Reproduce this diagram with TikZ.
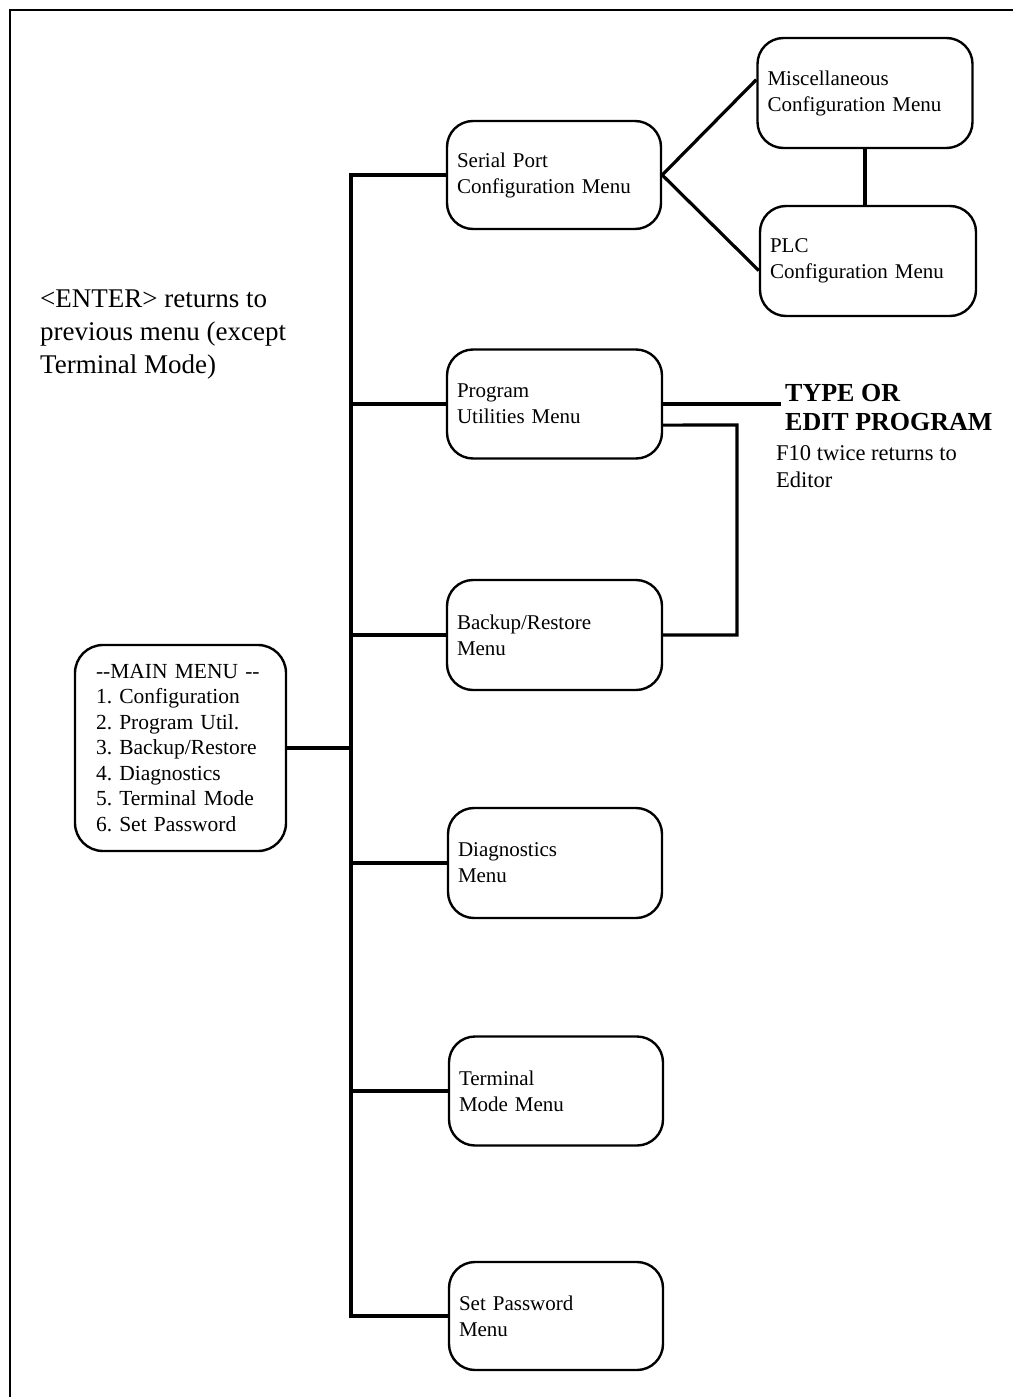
\documentclass[tikz,border=0pt]{standalone}
\usepackage{fontspec}
\setmainfont{Liberation Serif}
\frenchspacing
\begin{document}
\begin{tikzpicture}[x=1pt,y=-1pt,
  menubox/.style={draw, line width=2.4pt, rounded corners=26pt, inner xsep=10pt, inner ysep=0pt,
    text width=194pt, minimum height=108pt, align=left, font=\fontsize{21}{26}\selectfont},
  conn/.style={line width=3.2pt, line join=miter},
  note/.style={anchor=north west, inner sep=0pt, align=left}]
\useasboundingbox (0,0) rectangle (1013,1397);
\fill[white] (0,0) rectangle (1013,1397);
% outer frame (only top and left visible)
\draw[line width=2.6pt] (10,1397) -- (10,10) -- (1013,10);

% menu boxes
\node[menubox] (serial)  at (554,175)   {Serial Port\\Configuration Menu};
\node[menubox, text width=195pt, minimum height=110pt] (misc) at (865,93) {Miscellaneous\\Configuration Menu};
\node[menubox, text width=196pt, minimum height=110pt] (plc) at (868,261) {PLC\\Configuration Menu};
\node[menubox, text width=195pt, minimum height=109pt] (program) at (554.5,404) {Program\\Utilities Menu};
\node[menubox, text width=195pt, minimum height=110pt] (backup) at (554.5,635) {Backup/Restore\\Menu};
\node[menubox, minimum height=110pt] (diag) at (555,863) {Diagnostics\\Menu};
\node[menubox, minimum height=109pt] (term) at (556,1091) {Terminal\\Mode Menu};
\node[menubox] (setpw) at (556,1316) {Set Password\\Menu};

\node[draw, line width=2.4pt, rounded corners=28pt, inner xsep=21pt, inner ysep=0pt,
      text width=169pt, minimum height=206pt, align=left,
      font=\fontsize{21.5}{25.5}\selectfont] (main) at (180.5,748)
  {-{}-MAIN MENU -{}-\\1. Configuration\\2. Program Util.\\3. Backup/Restore\\4. Diagnostics\\5. Terminal Mode\\6. Set Password};

% notes
\node[note, font=\fontsize{27}{33}\selectfont] (enter) at (40,290)
  {<ENTER> returns to\\previous menu (except\\Terminal Mode)};
\node[note, font=\fontsize{26}{29}\selectfont\bfseries] (typeor) at (785,384)
  {TYPE OR\\EDIT PROGRAM};
\node[note, font=\fontsize{22.5}{27}\selectfont] (f10) at (776,445)
  {F10 twice returns to\\Editor};

% trunk
\coordinate (trunk) at (351,0);
\draw[conn] (serial.west) -- (serial.west -| trunk) -- (setpw.west -| trunk) -- (setpw.west);
\draw[conn] (main.east) -- (main.east -| trunk);
\foreach \b in {program,backup,diag,term}
  \draw[conn] (\b.west -| trunk) -- (\b.west);

% configuration sub-menus
\draw[conn] (misc.173) -- (serial.east) -- (plc.185);
\draw[conn] (misc.south) -- (plc.north -| misc.south);

% program utilities links
\coordinate (typeend) at (781,405);
\draw[conn] (program.east) -- (program.east -| typeend);
\coordinate (loop) at (737,425);
\draw[conn] (program.349) -- (loop) |- (backup.east);
\end{tikzpicture}
\end{document}
